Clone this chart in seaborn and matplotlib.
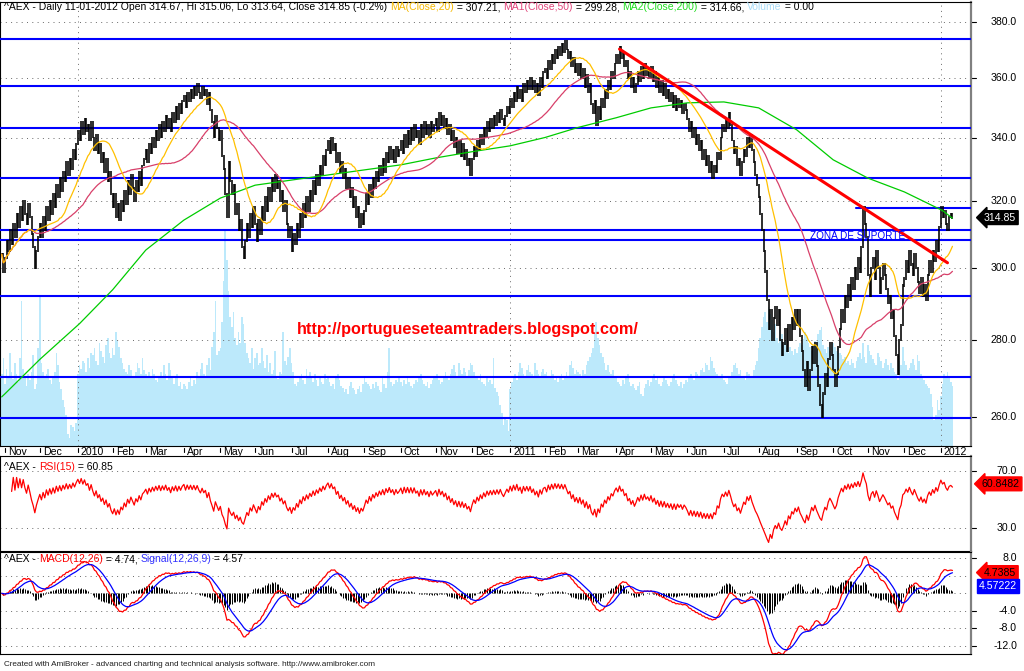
import numpy as np
import pandas as pd
import matplotlib
matplotlib.use("Agg")
import matplotlib.pyplot as plt
import matplotlib.transforms as mtrans
from matplotlib.lines import Line2D
from matplotlib.text import Annotation
import seaborn as sns

sns.set_theme(style="white")
plt.rcParams["font.family"] = ["Liberation Sans", "DejaVu Sans"]

W, H, DPI = 1024, 671, 100

# ---------------- data ----------------
dates = pd.bdate_range("2009-10-29", "2012-01-11")

close_2009 = [304, 299,
              303, 308, 305, 311, 307, 313, 309, 316, 312, 318, 314, 320, 316, 313, 319, 315, 310, 306, 300, 305, 309,
              313, 309, 315, 311, 318, 314, 320, 316, 322, 318, 325, 321, 327, 323, 329, 326, 332, 328, 333, 330, 336, 333, 338]
close_2010a = [342, 339, 345, 341, 346, 342, 344, 339, 345, 340, 336, 341, 335, 338, 332, 335, 329, 333, 326, 329, 322,
               318, 322, 315, 319, 314, 320, 317, 323, 319, 326, 322, 328, 324, 320, 326, 323, 329, 325, 331, 333,
               336, 332, 338, 335, 340, 337, 342, 339, 344, 340, 345, 342, 347, 343, 346, 342, 348, 345, 350, 346, 351, 348, 352,
               354, 350, 355, 352, 356, 353, 357, 354, 358, 355, 353, 357, 354, 356, 351, 355, 349, 345, 340, 347, 343, 339,
               342, 334, 330, 322, 315, 332, 326, 322, 325, 316, 319, 311, 314, 306, 303, 308, 313, 309, 316, 312, 318,
               313, 308, 314, 310, 318, 314, 321, 317, 324, 320, 327, 323, 328, 324, 326, 320, 323, 317, 320, 313, 309, 312]
close_2010b = [305, 310, 307, 313, 309, 316, 312, 319, 315, 321, 317, 323, 320, 326, 322, 328, 325, 331, 328, 334, 331, 336,
               339, 335, 340, 336, 338, 332, 335, 329, 332, 327, 330, 324, 327, 321, 324, 318, 321, 315, 318, 312, 316, 313,
               317, 322, 319, 325, 321, 327, 324, 329, 326, 331, 328, 333, 329, 335, 332, 337, 333, 336, 332, 337, 334, 336,
               339, 335, 341, 337, 342, 338, 343, 339, 344, 340, 342, 338, 344, 340, 345, 341, 344, 340, 345, 342, 344,
               346, 342, 348, 344, 347, 343, 346, 341, 344, 339, 342, 337, 340, 335, 339, 334, 338, 333, 336, 331, 333, 328,
               333, 337, 334, 339, 336, 341, 338, 343, 340, 345, 342, 346, 343, 347, 344, 348, 345, 349, 346, 344, 347, 350, 348]
close_2011a = [353, 350, 355, 352, 357, 353, 356, 352, 358, 355, 359, 356, 360, 356, 359, 355, 358, 354, 360, 357, 362,
               363, 360, 366, 363, 368, 365, 370, 367, 371, 368, 372, 369, 373, 370, 367, 369, 364, 367, 362, 365,
               361, 365, 360, 363, 357, 361, 355, 358, 351, 348, 352, 344, 350, 346, 353, 350, 356, 353, 359, 356, 362, 360, 365,
               368, 365, 371, 367, 369, 364, 366, 360, 362, 357, 360, 355, 358, 362, 359, 364, 360, 365, 361, 363, 360,
               364, 359, 362, 357, 360, 355, 359, 354, 358, 353, 356, 352, 355, 350, 354, 349, 353, 350, 352, 348, 351, 349,
               346, 342, 345, 340, 343, 338, 341, 336, 339, 333, 336, 331, 334, 329, 332, 327, 331, 329, 335, 333, 340, 344]
close_2011b = [342, 346, 343, 348, 344, 339, 335, 337, 331, 333, 328, 332, 336, 334, 340, 337, 341, 336, 332, 328, 325,
               321, 316, 311, 305, 299, 291, 283, 288, 280, 286, 289, 284, 288, 280, 276, 279, 283, 277, 284, 280, 286, 283, 288,
               284, 288, 281, 277, 272, 268, 274, 267, 272, 278, 274, 279, 273, 268, 263, 260, 266, 271, 268, 275, 279, 276,
               272, 268, 271, 278, 283, 288, 285, 292, 289, 295, 291, 297, 294, 300, 297, 303, 299, 306, 318, 313, 309,
               298, 292, 300, 303, 297, 305, 300, 293, 297, 301, 298, 294, 290, 292, 286, 288, 281, 276, 271, 280, 284, 295,
               297, 302, 299, 305, 301, 298, 304, 300, 296, 293, 297, 292, 295, 291, 298, 302, 299, 305, 302, 308, 305, 312]
close_2012 = [318, 315, 317, 313, 311, 315, 316, 314.85]

volume_2009 = [70, 85,
               60, 75, 68, 90, 72, 65, 80, 70, 62, 85, 140, 75, 66, 58, 70, 64, 72, 88, 55, 60, 95,
               145, 80, 72, 66, 70, 75, 64, 60, 68, 72, 90, 78, 62, 55, 45, 38, 30, 12, 8, 20, 18, 15, 22]
volume_2010a = [70, 78, 75, 82, 80, 72, 85, 76, 90, 88, 95, 82, 78, 100, 92, 86, 80, 98, 105, 90, 85,
                95, 88, 110, 102, 96, 85, 80, 75, 72, 70, 78, 74, 68, 66, 72, 80, 76, 70, 85, 74,
                70, 66, 72, 68, 75, 70, 64, 62, 68, 72, 66, 78, 70, 64, 80, 74, 68, 60, 66, 70, 58, 62, 55,
                60, 58, 55, 62, 66, 58, 64, 60, 72, 68, 75, 80, 70, 66, 78, 85, 74, 96, 110, 140, 88, 92,
                95, 120, 160, 210, 180, 150, 125, 115, 130, 105, 98, 110, 100, 125, 118, 100, 90, 85, 80, 95, 75,
                85, 90, 78, 80, 95, 82, 76, 88, 72, 80, 70, 74, 92, 68, 65, 72, 70, 110, 82, 78, 86, 95]
volume_2010b = [80, 72, 60, 58, 62, 66, 70, 64, 60, 75, 68, 72, 66, 62, 70, 64, 58, 66, 62, 60, 70, 65,
                68, 62, 58, 60, 55, 66, 70, 64, 58, 56, 52, 55, 50, 58, 62, 56, 54, 50, 55, 58, 52, 60,
                66, 62, 60, 58, 55, 60, 56, 62, 58, 54, 52, 66, 60, 56, 72, 95, 62, 58, 60, 64, 62, 66,
                62, 58, 64, 60, 66, 62, 58, 56, 60, 64, 62, 68, 70, 64, 60, 58, 62, 56, 60, 64, 68,
                66, 70, 64, 60, 62, 68, 72, 66, 64, 70, 75, 78, 72, 68, 80, 74, 70, 76, 72, 68, 74, 80,
                78, 72, 68, 66, 64, 70, 62, 60, 58, 66, 62, 64, 60, 85, 56, 52, 48, 40, 32, 20, 28, 25, 15]
volume_2011a = [55, 62, 66, 70, 64, 72, 80, 76, 70, 68, 74, 78, 72, 70, 68, 80, 74, 70, 66, 72, 75,
                70, 72, 68, 66, 74, 70, 64, 68, 62, 66, 70, 64, 68, 72, 66, 78, 82, 76, 70, 74,
                72, 70, 68, 74, 70, 78, 82, 86, 90, 95, 110, 120, 105, 98, 90, 86, 80, 74, 78, 72, 70, 74, 68,
                66, 62, 60, 58, 64, 60, 66, 70, 62, 58, 60, 56, 54, 58, 62, 50, 48, 56, 60, 64, 58,
                62, 66, 70, 64, 68, 60, 58, 62, 66, 64, 60, 58, 62, 66, 70, 64, 60, 58, 62, 56, 60, 64,
                62, 66, 70, 68, 64, 72, 70, 66, 74, 76, 72, 80, 78, 74, 86, 82, 76, 72, 70, 68, 66, 70]
volume_2011b = [64, 62, 60, 66, 68, 72, 78, 80, 76, 70, 74, 68, 66, 64, 72, 70, 66, 68, 74, 78, 82,
                95, 105, 115, 125, 130, 120, 135, 128, 122, 110, 118, 105, 100, 112, 108, 98, 102, 95, 90, 96, 92, 88, 94,
                90, 96, 100, 98, 104, 110, 106, 100, 96, 92, 98, 102, 95, 108, 112, 115, 98, 94, 90, 96, 92, 88,
                100, 96, 92, 95, 90, 88, 84, 86, 80, 82, 78, 84, 80, 76, 82, 86, 90, 84, 100, 86, 80,
                98, 92, 88, 84, 80, 78, 90, 86, 82, 76, 80, 84, 78, 74, 80, 76, 72, 70, 64, 82, 78, 96,
                82, 78, 74, 76, 80, 84, 78, 74, 88, 82, 70, 66, 64, 60, 58, 56, 50, 38, 25, 30, 45, 35]
volume_2012 = [48, 60, 70, 68, 72, 66, 62, 58]

ma200_dates = ["2009-10-29", "2009-11-02", "2009-12-01", "2010-01-04", "2010-02-01", "2010-03-01",
               "2010-04-01", "2010-05-03", "2010-06-01", "2010-07-01", "2010-08-02", "2010-09-01",
               "2010-10-01", "2010-11-01", "2010-12-01", "2011-01-03", "2011-02-01", "2011-03-01",
               "2011-04-01", "2011-05-02", "2011-06-01", "2011-07-01", "2011-08-01", "2011-09-01",
               "2011-10-03", "2011-11-01", "2011-12-01", "2012-01-03", "2012-01-11"]
ma200_vals = [265.1, 265.9, 274.8, 284.4, 293.8, 305.2, 314.1, 320.8, 324.8, 326.4, 328.0, 329.6,
              331.2, 333.4, 335.4, 337.3, 340.0, 343.3, 346.5, 349.8, 351.5, 351.8, 349.8, 342.5,
              332.8, 327.0, 322.7, 317.0, 314.66]

support_levels = [373.6, 357.3, 343.2, 327.0, 311.1, 308.2, 292.1, 270.1, 259.8]
short_support = 317.8
short_support_start = "2011-10-21"
trend_dates = ["2011-04-05", "2012-01-06"]
trend_vals = [370.1, 301.5]

month_labels = ["Nov", "Dec", "2010", "Feb", "Mar", "Apr", "May", "Jun", "Jul", "Aug", "Sep", "Oct",
                "Nov", "Dec", "2011", "Feb", "Mar", "Apr", "May", "Jun", "Jul", "Aug", "Sep", "Oct",
                "Nov", "Dec", "2012"]
price_ticks = [260, 280, 300, 320, 340, 360, 380]
rsi_ticks = [70, 30]
macd_ticks = [8, 4, 0, -4, -8, -12]
macd_tick_labels = [8, -4, -8, -12]

last_labels = {"close": 314.85, "rsi": 60.8482, "macd": 4.7385, "signal": 4.57222}

# ---------------- derived series ----------------
close = np.array(close_2009 + close_2010a + close_2010b + close_2011a + close_2011b + close_2012, dtype=float)
volume = np.array(volume_2009 + volume_2010a + volume_2010b + volume_2011a + volume_2011b + volume_2012, dtype=float)
idx = np.arange(len(dates))
s = pd.Series(close)
ma20 = s.rolling(20, min_periods=1).mean()
ma50 = s.rolling(50, min_periods=1).mean()
delta = s.diff()
ag = delta.clip(lower=0).ewm(alpha=1 / 15, min_periods=6).mean()
al = (-delta.clip(upper=0)).ewm(alpha=1 / 15, min_periods=6).mean()
rsi_vals = 100 - 100 / (1 + ag / al)
ema12 = s.ewm(span=12, adjust=False).mean()
ema26 = s.ewm(span=26, adjust=False).mean()
macd = ema12 - ema26
signal = macd.ewm(span=9, adjust=False).mean()
hist = macd - signal
opens = np.r_[close[0], close[:-1]]

def didx(d):
    return dates.get_loc(pd.Timestamp(d))

ma200_idx = [didx(d) for d in ma200_dates]
month_idx = [i for i in range(len(dates)) if i > 0 and dates[i].month != dates[i - 1].month]

# ---------------- figure ----------------
fig = plt.figure(figsize=(W / DPI, H / DPI), dpi=DPI, facecolor="white")

def px_axes(x0, y0, x1, y1):
    return fig.add_axes([x0 / W, 1 - y1 / H, (x1 - x0) / W, (y1 - y0) / H])

XMIN, XMAX = -1.02, 585.2
DOT = dict(color="#707070", lw=0.72, ls=(0, (1, 4.3)))

main = px_axes(0, 2, 971, 446)
vol = main.twinx()
vol.set_zorder(1)
main.set_zorder(2)
main.patch.set_visible(False)
vol.patch.set_visible(True)
vol.patch.set_facecolor("white")
vol.bar(idx, volume, width=1.0, color="#bce9fb", linewidth=0)
vol.set_ylim(0, 430)
vol.set_xlim(XMIN, XMAX)
main.set_yscale("log")
main.set_ylim(252.9, 387.2)
main.set_xlim(XMIN, XMAX)

for v in price_ticks:
    main.axhline(v, **DOT)
for i, lab in zip(month_idx, month_labels):
    if lab.isdigit():
        main.axvline(i, **DOT)

for lv in support_levels:
    main.axhline(lv, color="#0000ff", lw=1.5, zorder=3)
main.plot([didx(short_support_start), XMAX], [short_support, short_support], color="#0000ff", lw=1.5, zorder=3)

lo = np.minimum(opens, close) - 0.3
hi = np.maximum(opens, close) + 0.3
main.vlines(idx, lo, hi, color="black", lw=1.15, zorder=4)

sns.lineplot(x=ma200_idx, y=ma200_vals, ax=main, color="#00cc00", lw=0.9, estimator=None, zorder=5)
sns.lineplot(x=idx, y=ma50.values, ax=main, color="#d8406a", lw=0.9, estimator=None, zorder=5)
sns.lineplot(x=idx, y=ma20.values, ax=main, color="#ffc000", lw=0.9, estimator=None, zorder=5)

main.plot([didx(d) for d in trend_dates], trend_vals, color="#ff0000", lw=2.2, zorder=6)

main.text(didx("2011-09-13"), 309.4, "ZONA DE SUPORTE", color="#0000ff", fontsize=7.2,
          va="center", ha="left", zorder=7)
main.text(didx("2010-07-06"), 282.8, "http://portugueseteamtraders.blogspot.com/", color="#ff0000",
          fontsize=11.7, fontweight="bold", va="center", ha="left", zorder=7)

# ---------------- RSI ----------------
rsi_ax = px_axes(0, 456, 971, 551)
rsi_ax.set_xlim(XMIN, XMAX)
rsi_ax.set_ylim(14.2, 80.2)
for v in rsi_ticks:
    rsi_ax.axhline(v, **DOT)
sns.lineplot(x=idx, y=rsi_vals.values, ax=rsi_ax, color="#ff0000", lw=0.9, estimator=None)

# ---------------- MACD ----------------
macd_ax = px_axes(0, 552, 971, 654)
macd_ax.set_xlim(XMIN, XMAX)
macd_ax.set_ylim(-13.9, 9.45)
for v in macd_ticks:
    macd_ax.axhline(v, **DOT)
macd_ax.vlines(idx, 0, hist.values, color="black", lw=0.7)
sns.lineplot(x=idx, y=macd.values, ax=macd_ax, color="#ff0000", lw=0.9, estimator=None)
sns.lineplot(x=idx, y=signal.values, ax=macd_ax, color="#0000ff", lw=0.9, estimator=None)

for ax in (main, vol, rsi_ax, macd_ax):
    ax.set_xticks([])
    ax.set_yticks([])
    ax.minorticks_off()
    ax.set_xlabel("")
    ax.set_ylabel("")
    ax.grid(False)
    ax.tick_params(which="both", left=False, right=False, bottom=False, top=False,
                   labelleft=False, labelright=False, labelbottom=False)
for sp in vol.spines.values():
    sp.set_visible(False)
for ax in (main, rsi_ax, macd_ax):
    for name, sp in ax.spines.items():
        sp.set_color("#000000")
        sp.set_linewidth(0.8)
    ax.spines["right"].set_color("#808080")
    ax.spines["right"].set_linewidth(1.6)

# right axis labels
def right_labels(ax, vals, fmt="{:.1f}"):
    tr = mtrans.blended_transform_factory(fig.transFigure, ax.transData)
    for v in vals:
        ax.text(1017 / W, v, fmt.format(v), transform=tr, ha="right", va="center",
                fontsize=7.6, color="black", clip_on=False)
        ax.add_line(Line2D([971 / W, 976 / W], [v, v], transform=tr, color="black", lw=0.8, clip_on=False))

right_labels(main, price_ticks)
right_labels(rsi_ax, rsi_ticks)
right_labels(macd_ax, macd_tick_labels)

def value_box(ax, val, text, fc, tc, x_px, arrow=True, dy=0):
    tr = mtrans.blended_transform_factory(fig.transFigure, ax.transData)
    tr = tr + mtrans.ScaledTranslation(0, -dy / DPI, fig.dpi_scale_trans)
    style = "larrow,pad=0.18" if arrow else "square,pad=0.18"
    ax.text(x_px / W, val, text, transform=tr, ha="left", va="center", fontsize=7.6, color=tc,
            clip_on=False, zorder=10, bbox=dict(boxstyle=style, fc=fc, ec=fc))

value_box(main, last_labels["close"], "314.85", "black", "white", 984)
value_box(rsi_ax, last_labels["rsi"], "60.8482", "#ff0000", "black", 982)
value_box(macd_ax, last_labels["macd"], "4.7385", "#ff0000", "black", 984)
value_box(macd_ax, last_labels["signal"], "4.57222", "#0000ff", "white", 979, arrow=False, dy=13)

# month axis
trx = mtrans.blended_transform_factory(main.transData, fig.transFigure)
for i, lab in zip(month_idx, month_labels):
    fig.add_artist(Line2D([i, i], [1 - 447.5 / H, 1 - 452 / H], transform=trx, color="black", lw=0.8))
    fig.text(i, 1 - 452 / H, lab, transform=mtrans.offset_copy(trx, fig=fig, x=3, y=0, units="dots"),
             fontsize=7.6, va="center", ha="left", color="black")

# multi-coloured headers
def chain_text(x_px, y_px, parts, fs=7.5):
    prev = fig.text(x_px / W, 1 - y_px / H, parts[0][0], color=parts[0][1], fontsize=fs,
                    va="center", ha="left", zorder=20)
    for txt, col in parts[1:]:
        a = Annotation(txt, xy=(1, 0), xycoords=prev, va="bottom", ha="left", color=col, fontsize=fs, zorder=20)
        fig.add_artist(a)
        prev = a

chain_text(4, 7.5, [("^AEX - Daily 11-01-2012 Open 314.67, Hi 315.06, Lo 313.64, Close 314.85 (-0.2%) ", "black"),
                    ("MA(Close,20)", "#f5b800"), (" = 307.21, ", "black"),
                    ("MA1(Close,50)", "#e0457b"), (" = 299.28, ", "black"),
                    ("MA2(Close,200)", "#22dd22"), (" = 314.66, ", "black"),
                    ("Volume", "#a8dcf8"), (" = 0.00", "black")])
chain_text(4, 467.5, [("^AEX - ", "black"), ("RSI(15)", "#ff0000"), (" = 60.85", "black")])
chain_text(4, 559.5, [("^AEX - ", "black"), ("MACD(12,26)", "#ff0000"), (" = 4.74, ", "black"),
                      ("Signal(12,26,9)", "#3333ff"), (" = 4.57", "black")])

fig.text(4 / W, 1 - 665 / H,
         "Created with AmiBroker - advanced charting and technical analysis software. http://www.amibroker.com",
         fontsize=5.9, color="#202020", va="center", ha="left")

fig.savefig("out.png", dpi=DPI, facecolor="white")
